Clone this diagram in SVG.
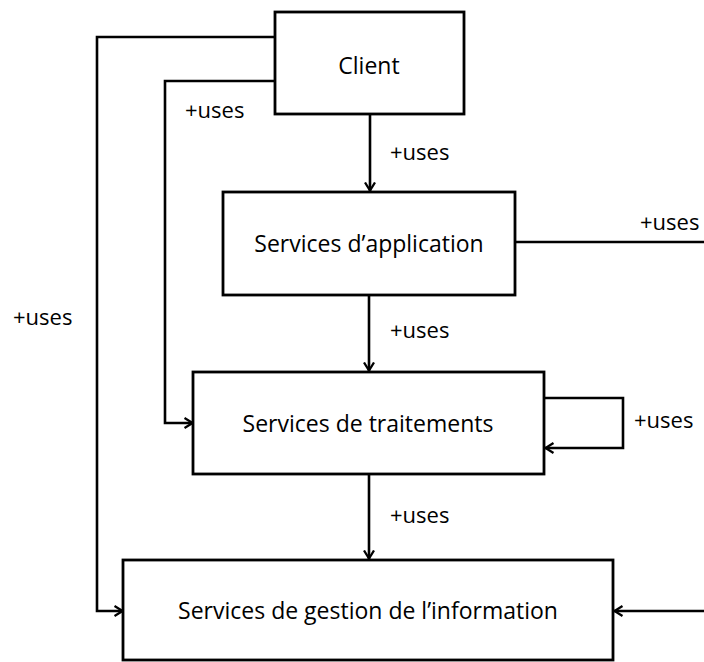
<svg xmlns="http://www.w3.org/2000/svg" width="704" height="662" viewBox="0 0 704 662">
<style>
.box{fill:#fff;stroke:#000;stroke-width:2.8}
.ln{fill:none;stroke:#000;stroke-width:2.6}
.t{font-family:"Open Sans","Noto Sans",sans-serif;font-size:23px;fill:#000;text-anchor:middle}
.l{font-family:"Open Sans","Noto Sans",sans-serif;font-size:22px;fill:#000}
</style>
<defs>
<marker id="ah" viewBox="0 0 10 12" refX="9.5" refY="6" markerWidth="10" markerHeight="12" markerUnits="userSpaceOnUse" orient="auto">
<path d="M1,1 L9,6 L1,11" fill="none" stroke="#000" stroke-width="2.3"/>
</marker>
</defs>
<rect width="704" height="662" fill="#fff"/>
<g id="connectors">
<path class="ln" d="M275,37 H97 V611 H123" marker-end="url(#ah)"/>
<path class="ln" d="M275,81 H165 V423 H193" marker-end="url(#ah)"/>
<path class="ln" d="M370,114 V191" marker-end="url(#ah)"/>
<path class="ln" d="M369,295 V371" marker-end="url(#ah)"/>
<path class="ln" d="M369,474 V559" marker-end="url(#ah)"/>
<path class="ln" d="M544,398 H623 V448 H545" marker-end="url(#ah)"/>
<path class="ln" d="M515,242 H704"/>
<path class="ln" d="M704,611 H614" marker-end="url(#ah)"/>
<text class="l" x="185" y="118">+uses</text>
<text class="l" x="390" y="160">+uses</text>
<text class="l" x="640" y="230">+uses</text>
<text class="l" x="13" y="325">+uses</text>
<text class="l" x="390" y="338">+uses</text>
<text class="l" x="634" y="428">+uses</text>
<text class="l" x="390" y="523">+uses</text>
</g>
<g id="client">
<rect class="box" x="275" y="12" width="189" height="102"/>
<text class="t" x="369" y="74">Client</text>
</g>
<g id="app">
<rect class="box" x="223" y="192" width="292" height="103"/>
<text class="t" x="369" y="252">Services d’application</text>
</g>
<g id="traitements">
<rect class="box" x="193" y="372" width="351" height="102"/>
<text class="t" x="368" y="432">Services de traitements</text>
</g>
<g id="information">
<rect class="box" x="123" y="560" width="490" height="100"/>
<text class="t" x="368" y="619">Services de gestion de l’information</text>
</g>
</svg>
